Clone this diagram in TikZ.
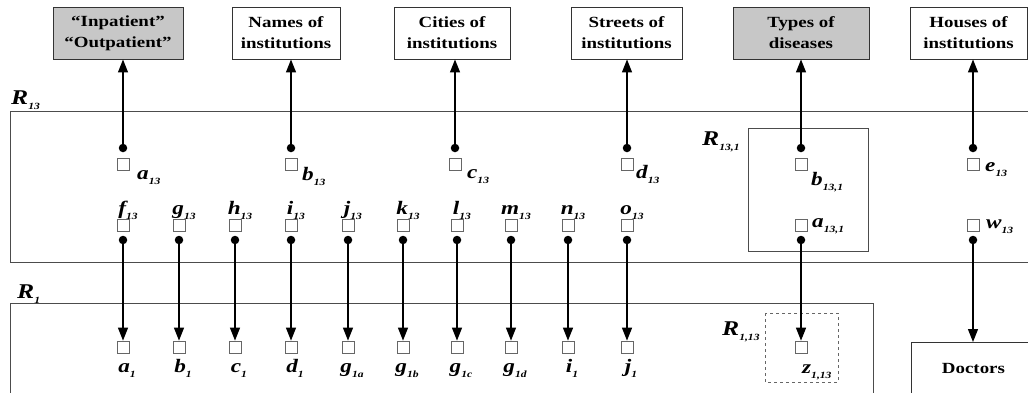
\documentclass[tikz,border=0pt]{standalone}
\usepackage{fontspec}
\setmainfont[FakeStretch=1.22]{Liberation Serif}
\usetikzlibrary{arrows.meta}
% letter with a small lowered index
\newcommand\sublab[2]{#1\raisebox{-0.28em}{\fontsize{9.5}{9.5}\selectfont #2}}
\begin{document}
\begin{tikzpicture}[x=1pt,y=-1pt,
  catbox/.style={draw=black!80, line width=0.9pt, minimum height=52pt, align=center,
    font=\fontsize{15.5}{21}\selectfont\bfseries, inner sep=0pt},
  catfill/.style={catbox, fill=black!22},
  cell/.style={draw=black!60, line width=0.7pt, minimum size=12pt, inner sep=0pt},
  pin/.style={circle, fill=black, minimum size=8.5pt, inner sep=0pt},
  lab/.style={font=\fontsize{19}{19}\selectfont\bfseries\itshape, inner sep=0pt},
  rlab/.style={font=\fontsize{21}{21}\selectfont\bfseries\itshape, inner sep=0pt},
  link/.style={line width=1.3pt, -{Triangle[length=13pt,width=10pt]}},
  frame/.style={draw=black!70, line width=0.9pt}]
\useasboundingbox (0,0) rectangle (1028,392);

% relation frames
\draw[frame] (10,111) rectangle (1040,262);
\draw[frame] (10,303) rectangle (873,400);
\draw[frame] (748,128) rectangle (868,251);
\draw[frame, dashed, draw=black!60] (765,313) rectangle (838,382);

\node[rlab, anchor=base west] (r13) at (11,104) {\sublab{R}{13}};
\node[rlab, anchor=base west] (r1) at (17,298) {\sublab{R}{1}};
\node[rlab, anchor=base west] (r131) at (702,145) {\sublab{R}{13,1}};
\node[rlab, anchor=base west] (r113) at (722,335) {\sublab{R}{1,13}};

% category boxes along the top
\node[catfill, minimum width=130pt] (t1) at (118,33) {``Inpatient''\\``Outpatient''};
\node[catbox, minimum width=108pt] (t2) at (286,33) {Names of\\institutions};
\node[catbox, minimum width=116pt] (t3) at (452,33) {Cities of\\institutions};
\node[catbox, minimum width=111pt] (t4) at (626.5,33) {Streets of\\institutions};
\node[catfill, minimum width=136pt] (t5) at (801,33) {Types of\\diseases};
\node[catbox, minimum width=117pt] (t6) at (968.5,33) {Houses of\\institutions};

% attribute cells linked upward
\foreach \n/\x/\t/\s/\lx/\ly/\k in {a/123/a/13/137/179/1, b/291/b/13/302/180/2,
    c/455/c/13/467/178/3, d/627/d/13/636/178/4, bb/801/b/{13,1}/811/185/5, e/973/e/13/985/171/6} {
  \node[cell] (\n) at (\x,164) {};
  \node[pin] (\n p) at (\x,148) {};
  \node[lab, anchor=base west] at (\lx,\ly) {\sublab{\t}{\s}};
  \draw[link] (\n p) -- (\n p |- t\k.south);
}

% attribute cells linked downward into R1
\foreach \x/\t/\ts/\b/\bs [count=\i] in {123/f/13/a/1, 179/g/13/b/1, 235/h/13/c/1,
    291/i/13/d/1, 348/j/13/g/1a, 403/k/13/g/1b, 457/l/13/g/1c, 511/m/13/g/1d,
    568/n/13/i/1, 627/o/13/j/1} {
  \node[cell] (u\i) at (\x,225) {};
  \node[lab, anchor=base] at (\x+5,214) {\sublab{\t}{\ts}};
  \node[pin] (p\i) at (\x,240) {};
  \node[cell] (v\i) at (\x,347) {};
  \node[lab, anchor=base] at (\x+4,372) {\sublab{\b}{\bs}};
  \draw[link] (p\i) -- (v\i);
}

% key of R13,1 and its target
\node[cell] (a131) at (801,225) {};
\node[pin] (a131p) at (801,240) {};
\node[lab, anchor=base west] at (812,227) {\sublab{a}{13,1}};
\node[cell] (z) at (801,347) {};
\node[lab, anchor=base west] at (802,373) {\sublab{z}{1,13}};
\draw[link] (a131p) -- (z);

% link to doctors
\node[cell] (w) at (973,225) {};
\node[pin] (wp) at (973,240) {};
\node[lab, anchor=base west] at (986,228) {\sublab{w}{13}};
\node[catbox, anchor=north west, minimum width=124pt, minimum height=52pt] (doc) at (911,342) {Doctors};
\draw[link] (wp) -- (wp |- doc.north);
\end{tikzpicture}
\end{document}
